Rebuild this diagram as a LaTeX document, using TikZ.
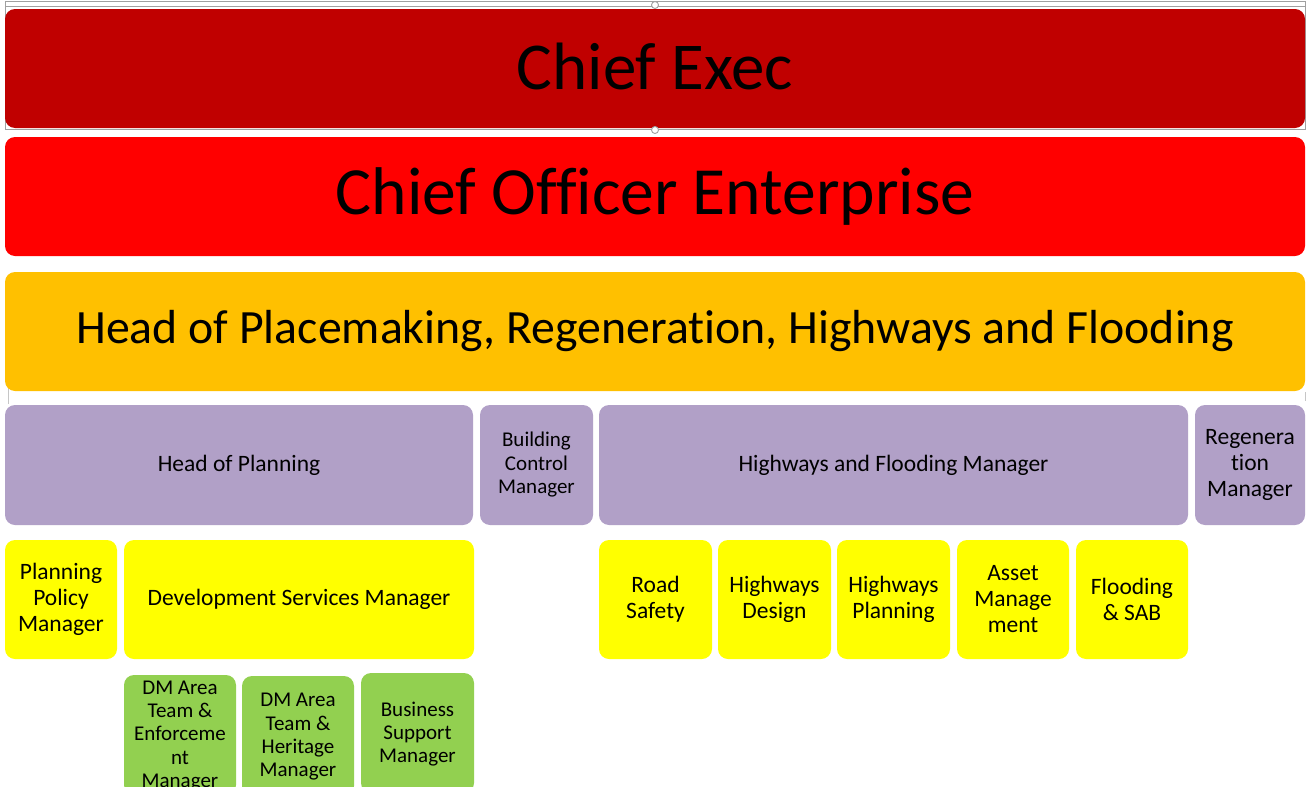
\documentclass[tikz,border=0pt]{standalone}
\usepackage{fontspec}
\setmainfont[Ligatures={NoCommon,NoDiscretionary,NoRare}]{Carlito}
\definecolor{cexec}{HTML}{C00000}
\definecolor{coe}{HTML}{FF0000}
\definecolor{head}{HTML}{FFC000}
\definecolor{purp}{HTML}{B1A0C7}
\definecolor{yel}{HTML}{FFFF00}
\definecolor{grn}{HTML}{92D050}
\definecolor{selgray}{HTML}{A0A0A0}
\tikzset{
  box/.style={rounded corners=10pt, draw=none, align=center, inner sep=0pt, text=black, font=\fontsize{23.5}{26}\selectfont},
  bigbox/.style={box, minimum width=1300pt, minimum height=119pt},
  purpbox/.style={box, fill=purp, minimum height=120pt},
  yelbox/.style={box, fill=yel, minimum height=119pt},
  grnbox/.style={box, fill=grn, minimum height=120pt, font=\fontsize{21}{23.3}\selectfont},
  handle/.style={circle, draw=selgray, fill=white, line width=0.9pt, minimum size=7pt, inner sep=0pt},
}
\begin{document}
\begin{tikzpicture}[x=1pt,y=-1pt]
\clip (0,0) rectangle (1307,787);
\fill[white] (0,0) rectangle (1307,787);
% selection frame
\draw[selgray, line width=0.9pt] (5,1.7) rectangle (1305,129.5);
\draw[selgray, line width=0.9pt] (5,6) -- (1305,6);
\draw[selgray!60, line width=0.8pt] (8.5,388) -- (8.5,404);
\draw[selgray!60, line width=0.8pt] (1305,392) -- (1305,401);
% top bars
\node[bigbox, fill=cexec, font=\fontsize{67}{70}\selectfont] (ce) at (655,68.5) {};
\node[font=\fontsize{67}{70}\selectfont, inner sep=0pt] (cet) at (655,66) {Chief Exec};
\node[bigbox, fill=coe, font=\fontsize{67.5}{70}\selectfont] (coe) at (655,196.5) {Chief Officer Enterprise};
\node[bigbox, fill=head, font=\fontsize{47.8}{52}\selectfont] (hp) at (655,331.5) {Head of Placemaking, Regeneration, Highways and Flooding};
\node[handle] (h1) at (655,5) {};
\node[handle] (h2) at (655,130) {};
% purple row
\node[purpbox, minimum width=468pt] (hop) at (239,465) {Head of Planning};
\node[purpbox, minimum width=113pt, font=\fontsize{21}{23.5}\selectfont] (bcm) at (536.5,465) {Building\\Control\\Manager};
\node[purpbox, minimum width=589pt] (hfm) at (893.5,465) {Highways and Flooding Manager};
\node[purpbox, minimum width=110pt] (rm) at (1250,465) {Regenera\\tion\\Manager};
% yellow row
\node[yelbox, minimum width=112pt] (ppm) at (61,599.5) {Planning\\Policy\\Manager};
\node[yelbox, minimum width=350pt] (dsm) at (299,599.5) {Development Services Manager};
\node[yelbox, minimum width=113pt] (rs) at (655.5,599.5) {Road\\Safety};
\node[yelbox, minimum width=113pt] (hd) at (774.5,599.5) {Highways\\Design};
\node[yelbox, minimum width=113pt] (hpl) at (893.5,599.5) {Highways\\Planning};
\node[yelbox, minimum width=112pt] (am) at (1013,599.5) {Asset\\Manage\\ment};
\node[yelbox, minimum width=112pt] (fs) at (1132,599.5) {Flooding\\\& SAB};
% green row
\node[grnbox, minimum width=112pt] (dme) at (180,735) {};
\node at (180,736) [font=\fontsize{21}{23.3}\selectfont, align=center, inner sep=0pt] (dmet) {DM Area\\Team \&\\Enforceme\\nt\\Manager};
\node[grnbox, minimum width=112pt] (dmh) at (298,736) {};
\node at (298,737) [font=\fontsize{21}{23.3}\selectfont, align=center, inner sep=0pt] (dmht) {DM Area\\Team \&\\Heritage\\Manager};
\node[grnbox, minimum width=113pt] (bsm) at (417.5,733) {};
\node at (417.5,734) [font=\fontsize{21}{23.3}\selectfont, align=center, inner sep=0pt] (bsmt) {Business\\Support\\Manager};
\end{tikzpicture}
\end{document}
